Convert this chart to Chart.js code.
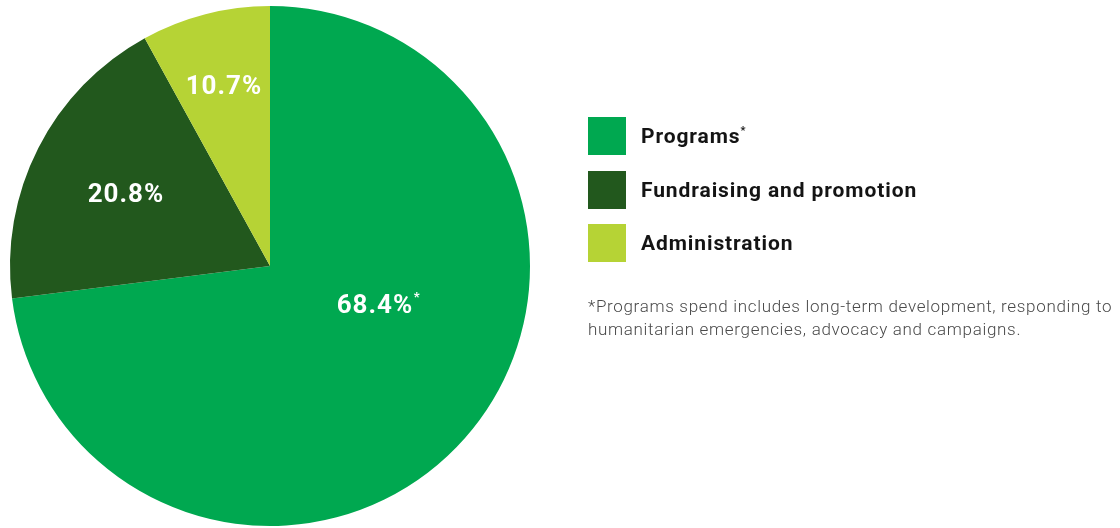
<!DOCTYPE html>
<html>
<head>
<meta charset="utf-8">
<script src="https://cdn.jsdelivr.net/npm/chart.js@4.4.0/dist/chart.umd.min.js"></script>
<style>
    html, body { margin: 0; padding: 0; background: #ffffff; }
    #wrap { position: relative; width: 1120px; height: 528px; overflow: hidden; }
    #spendChart { position: absolute; left: 0; top: 0; }
    #legend { position: absolute; left: 588px; top: 117px; font-family: Roboto, sans-serif; }
    .row { display: flex; align-items: center; height: 38px; margin-bottom: 15.5px; }
    .box { width: 38px; height: 38px; flex: none; }
    .name { margin-left: 15px; font-size: 21px; font-weight: 700; letter-spacing: 0.9px; line-height: 38px; color: #141414; white-space: nowrap; }
    .name sup { font-size: 11px; vertical-align: 9px; line-height: 0; margin-left: 0; }
    #note { position: absolute; left: 588px; top: 295px; font-family: Roboto, sans-serif; font-size: 17px; font-weight: 300; line-height: 23.4px; color: #4a4a4a; white-space: nowrap; letter-spacing: 0.68px; }
</style>
</head>
<body>
<div id="wrap">
    <canvas id="spendChart" width="1120" height="528"></canvas>
    <div id="legend"></div>
    <div id="note">*Programs spend includes long-term development, responding to<br>humanitarian emergencies, advocacy and campaigns.</div>
</div>
<script>
// الفئات والقيم (حجم الشرائح كما هي مرسومة، والنصوص كما هي مطبوعة)
const categories = ['Programs', 'Fundraising and promotion', 'Administration'];
const sliceValues = [73.0, 19.0, 8.0];
const valueLabels = ['68.4%', '20.8%', '10.7%'];
const noteMarks = ['*', '', ''];
const sliceColors = ['#00a850', '#22581d', '#b6d335'];

// موضع النص داخل كل شريحة: جزء من الزاوية وجزء من نصف القطر
const labelPlace = [
    { along: 0.418, out: 0.427 },
    { along: 0.5, out: 0.624 },
    { along: 0.5, out: 0.72 }
];

const sliceLabels = {
    id: 'sliceLabels',
    afterDatasetsDraw(chart) {
        const ctx = chart.ctx;
        const arcs = chart.getDatasetMeta(0).data;
        const size = 26;
        ctx.save();
        ctx.fillStyle = '#ffffff';
        ctx.font = '700 ' + size + 'px Roboto';
        if ('letterSpacing' in ctx) ctx.letterSpacing = '1px';
        arcs.forEach(function(arc, i) {
            const p = labelPlace[i];
            const a = arc.startAngle + (arc.endAngle - arc.startAngle) * p.along;
            const r = arc.outerRadius * p.out;
            const x = arc.x + Math.cos(a) * r;
            const y = arc.y + Math.sin(a) * r;
            const w = ctx.measureText(valueLabels[i]).width;
            ctx.textAlign = 'left';
            ctx.textBaseline = 'alphabetic';
            ctx.fillText(valueLabels[i], x - w / 2 + 0.5, y + size * 0.355);
            if (noteMarks[i]) {
                ctx.font = '700 13px Roboto';
                ctx.textBaseline = 'top';
                ctx.fillText(noteMarks[i], x + w / 2 + 1, y - size * 0.355 - 3);
                ctx.font = '700 ' + size + 'px Roboto';
            }
        });
        ctx.restore();
    }
};

function buildLegend() {
    const box = document.getElementById('legend');
    categories.forEach(function(name, i) {
        const row = document.createElement('div');
        row.className = 'row';
        const sq = document.createElement('div');
        sq.className = 'box';
        sq.style.background = sliceColors[i];
        const txt = document.createElement('div');
        txt.className = 'name';
        txt.textContent = name;
        if (noteMarks[i]) {
            const s = document.createElement('sup');
            s.textContent = noteMarks[i];
            txt.appendChild(s);
        }
        row.appendChild(sq);
        row.appendChild(txt);
        box.appendChild(row);
    });
}

function initSpendChart() {
    const ctx = document.getElementById('spendChart');
    new Chart(ctx, {
        type: 'pie',
        data: {
            labels: categories,
            datasets: [{
                data: sliceValues,
                backgroundColor: sliceColors,
                borderWidth: 0,
                hoverOffset: 0
            }]
        },
        options: {
            responsive: false,
            animation: false,
            layout: {
                padding: { top: 6, bottom: 2, left: 10, right: 590 }
            },
            plugins: {
                legend: { display: false },
                tooltip: { enabled: false }
            }
        },
        plugins: [sliceLabels]
    });
}

document.addEventListener('DOMContentLoaded', function() {
    buildLegend();
    initSpendChart();
});
</script>
</body>
</html>
